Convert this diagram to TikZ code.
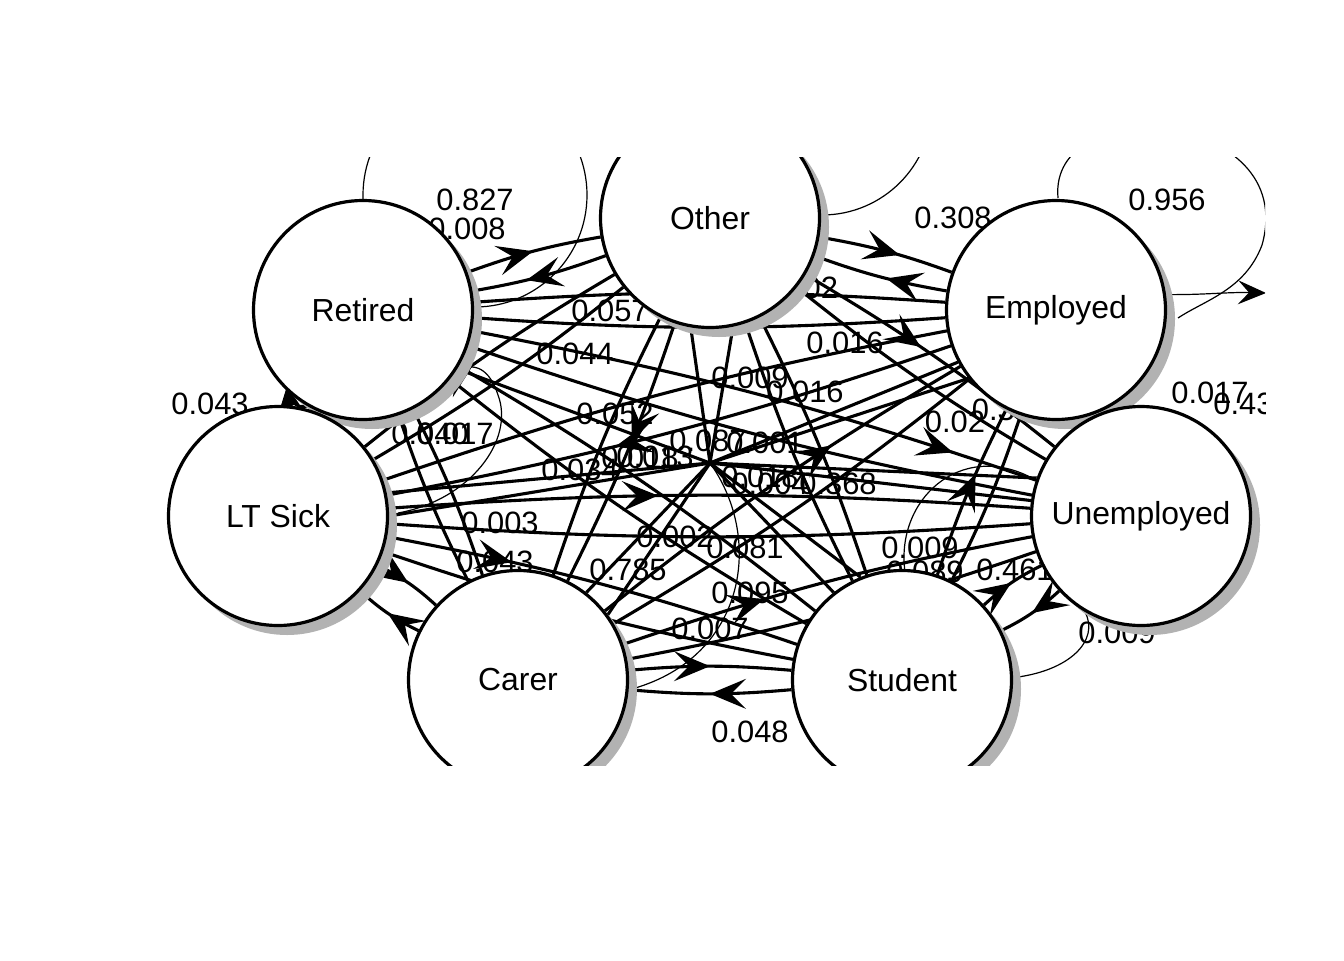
\documentclass[tikz,border=0pt]{standalone}
\usepackage{fontspec}
\setmainfont{Liberation Sans}
\usetikzlibrary{arrows.meta,decorations.markings,calc}
\tikzset{
  ghost/.style={circle,minimum size=222bp,inner sep=0pt,outer sep=0pt},
  vnode/.style={circle,draw=black,line width=3.2bp,fill=white,minimum size=219bp,inner sep=0pt,
    font=\fontsize{32}{32}\selectfont},
  tedge/.style={line width=3.1bp,draw=black},
  thinloop/.style={line width=1.2bp,draw=black},
  arr/.style={postaction={decorate},decoration={markings,
    mark=at position #1 with {\arrow{Stealth[length=36bp,width=30bp,inset=15bp]}}}},
  lab/.style={font=\fontsize{31}{31}\selectfont,inner sep=0pt},
  shadowc/.style={fill=black!30}
}
\begin{document}
\begin{tikzpicture}[x=1bp,y=-1bp]
\useasboundingbox (0,0) rectangle (1344,960);
\begin{scope}
\clip (0,157) rectangle (1265,765);
% node positions (invisible, for connectors)
\node[ghost] (O) at (710,218) {};
\node[ghost] (R) at (363,310) {};
\node[ghost] (E) at (1056,310) {};
\node[ghost] (L) at (278,516) {};
\node[ghost] (U) at (1141,516) {};
\node[ghost] (C) at (518,680) {};
\node[ghost] (S) at (902,680) {};
\coordinate (H) at (710,463);
% self loops (thin)
\draw[thinloop] (475,195) circle (112bp);
\draw[thinloop] (822,105) circle (110bp);
\draw[thinloop] (1058,198) .. controls (1048,90) and (1300,110) .. (1262,245) .. controls (1245,290) and (1205,300) .. (1178,318);
\coordinate (Eout) at (1266,293);
\draw[thinloop,-{Stealth[length=28bp,width=24bp,inset=11bp]}] (E.8) .. controls (1205,295) and (1225,292) .. (Eout);
\draw[thinloop] (398,513) .. controls (470,500) and (515,440) .. (498,395) .. controls (490,370) and (475,360) .. (455,372);
\draw[thinloop] (1032,478) .. controls (960,440) and (895,500) .. (905,572);
\draw[thinloop] (1010,678) .. controls (1070,672) and (1100,640) .. (1085,612);
\draw[thinloop] (H) .. controls (765,540) and (745,660) .. (628,690);
% spokes to the hub
\draw[tedge] (O.-100) -- (H);
\draw[tedge] (O.-78) -- (H);
\draw[tedge] (R.-32) -- (H);
\draw[tedge] (L.12) -- (H);
\draw[tedge] (L.0) -- (H);
\draw[tedge] (E.-142) -- (H);
\draw[tedge] (E.-152) -- (H);
\draw[tedge] (U.172) -- (H);
\draw[tedge] (U.160) -- (H);
\draw[tedge] (C.52) -- (H);
\draw[tedge] (C.36) -- (H);
\draw[tedge] (S.128) -- (H);
\draw[tedge] (S.112) -- (H);
% adjacent pairs
\draw[tedge,arr=0.6] (O) to[bend left=5] (R);
\draw[tedge,arr=0.5] (R) to[bend left=5] (O);
\draw[tedge,arr=0.45] (E) to[bend left=5] (O);
\draw[tedge,arr=0.6] (O) to[bend left=5] (E);
\draw[tedge] (L.80) -- (R.-120);
\draw[tedge] (R.-100) -- (L.60);
\fill (287,386) -- (304,411) -- (294,405) -- (279,412) -- cycle;
\draw[tedge] (E.-70) -- (U.115);
\draw[tedge] (U.95) -- (E.-55);
\draw[tedge,arr=0.5] (L) to[bend left=8] (C);
\draw[tedge,arr=0.5] (C) to[bend left=8] (L);
\draw[tedge,arr=0.5] (S) to[bend left=8] (U);
\draw[tedge,arr=0.5] (U) to[bend left=8] (S);
\draw[tedge,arr=0.5] (C) to[bend left=5] (S);
\draw[tedge,arr=0.5] (S) to[bend left=5] (C);
% second neighbours
\draw[tedge] (O) to[bend left=4] (L);
\draw[tedge,arr=0.45] (L) to[bend left=4] (O);
\draw[tedge,arr=0.45] (O) to[bend left=4] (U);
\draw[tedge] (U) to[bend left=4] (O);
\draw[tedge] (R) to[bend left=4] (C);
\draw[tedge] (C) to[bend left=4] (R);
\draw[tedge,arr=0.6] (S) to[bend left=4] (E);
\draw[tedge] (E) to[bend left=4] (S);
\draw[tedge,arr=0.3] (L) to[bend left=4] (S);
\draw[tedge] (S) to[bend left=4] (L);
\draw[tedge,arr=0.35] (C) to[bend left=4] (U);
\draw[tedge] (U) to[bend left=4] (C);
\draw[tedge,arr=0.5] (R) to[bend left=4] (E);
\draw[tedge] (E) to[bend left=4] (R);
% third neighbours
\draw[tedge,arr=0.45] (O) to[bend left=4] (C);
\draw[tedge] (C) to[bend left=4] (O);
\draw[tedge] (O) to[bend left=4] (S);
\draw[tedge] (S) to[bend left=4] (O);
\draw[tedge] (R) to[bend left=4] (S);
\draw[tedge] (S) to[bend left=4] (R);
\draw[tedge,arr=0.85] (R) to[bend left=4] (U);
\draw[tedge] (U) to[bend left=4] (R);
\draw[tedge,arr=0.6] (E) to[bend left=4] (L);
\draw[tedge] (L) to[bend left=4] (E);
\draw[tedge,arr=0.65] (C) to[bend left=4] (E);
\draw[tedge] (E) to[bend left=4] (C);
\draw[tedge,arr=0.42] (L) to[bend left=4] (U);
\draw[tedge] (U) to[bend left=4] (L);
% edge labels
\node[lab] (l1) at (475,200) {0.827};
\node[lab] (l2) at (467,229) {0.008};
\node[lab] (l3) at (953,218) {0.308};
\node[lab] (l4) at (1167,200) {0.956};
\node[lab] (l5) at (808,288) {0.02};
\node[lab] (l6) at (610,311) {0.057};
\node[lab] (l7) at (575,354) {0.044};
\node[lab] (l8) at (845,343) {0.016};
\node[lab] (l9) at (750,378) {0.009};
\node[lab] (l10) at (805,392) {0.016};
\node[lab] (l11) at (615,414) {0.052};
\node[lab] (l12) at (1002,410) {0.38};
\node[lab] (l13) at (955,422) {0.02};
\node[lab] (l14) at (1210,393) {0.017};
\node[lab] (l15) at (1252,404) {0.434};
\node[lab] (l16) at (210,404) {0.043};
\node[lab] (l17) at (430,434) {0.040};
\node[lab] (l18) at (455,434) {0.017};
\node[lab] (l19) at (708,441) {0.087};
\node[lab] (l20) at (765,443) {0.001};
\node[lab] (l21) at (640,458) {0.018};
\node[lab] (l22) at (655,457) {0.013};
\node[lab] (l23) at (580,470) {0.034};
\node[lab] (l24) at (760,477) {0.018};
\node[lab] (l25) at (770,484) {0.004};
\node[lab] (l26) at (838,484) {0.368};
\node[lab] (l27) at (500,523) {0.003};
\node[lab] (l28) at (495,562) {0.043};
\node[lab] (l29) at (628,570) {0.785};
\node[lab] (l30) at (675,537) {0.002};
\node[lab] (l31) at (745,548) {0.081};
\node[lab] (l32) at (920,548) {0.009};
\node[lab] (l33) at (925,572) {0.089};
\node[lab] (l34) at (1015,570) {0.461};
\node[lab] (l35) at (750,593) {0.095};
\node[lab] (l36) at (710,629) {0.007};
\node[lab] (l37) at (1117,633) {0.009};
\node[lab] (l38) at (750,732) {0.048};
% shadows
\foreach \n in {O,R,E,L,U,C,S}{\fill[shadowc] ($(\n)+(9,9)$) circle (110bp);}
% visible nodes
\node[vnode] (Ov) at (O) {Other};
\node[vnode] (Rv) at (R) {Retired};
\node[vnode] (Ev) at (E) {Employed};
\node[vnode] (Lv) at (L) {LT Sick};
\node[vnode] (Uv) at (U) {Unemployed};
\node[vnode] (Cv) at (C) {Carer};
\node[vnode] (Sv) at (S) {Student};
\end{scope}
\end{tikzpicture}
\end{document}
